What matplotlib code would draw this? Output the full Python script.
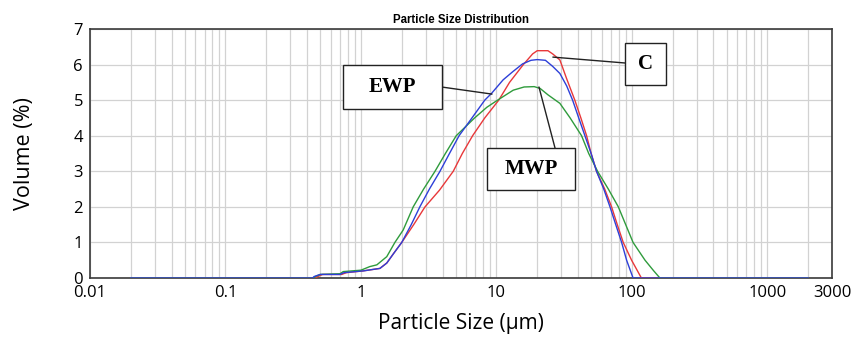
import numpy as np
import matplotlib
matplotlib.use("Agg")
import matplotlib.pyplot as plt
from matplotlib.patches import Rectangle
from matplotlib.ticker import FixedLocator, NullFormatter

# particle size (um) and volume (%)
ewp_size = [0.02, 0.44, 0.45, 0.5, 0.7, 0.75, 1.04, 1.38, 1.55, 1.75, 2.0, 2.35, 2.72,
            3.2, 3.83, 4.5, 5.3, 6.6, 8.2, 9.2, 11.2, 13.2, 15.6, 18, 20, 23, 26, 29.4,
            33, 36.5, 40.5, 45, 50, 54.8, 62, 68.9, 76, 84, 91.4, 102, 2000]
ewp_volume = [0, 0, 0.04, 0.1, 0.1, 0.15, 0.2, 0.27, 0.42, 0.7, 1.0, 1.5, 2.0,
              2.5, 3.0, 3.5, 4.0, 4.5, 5.0, 5.19, 5.57, 5.8, 6.02, 6.12, 6.14, 6.12, 5.95, 5.75,
              5.4, 5.0, 4.5, 4.0, 3.5, 3.0, 2.5, 2.0, 1.5, 1.0, 0.5, 0, 0]

c_size = [0.02, 0.46, 0.48, 0.52, 0.72, 0.78, 1.04, 1.38, 1.55, 1.75, 2.0, 2.45, 2.97,
          3.8, 4.8, 5.6, 6.67, 8.2, 10.4, 12.5, 15.8, 18.5, 20, 24, 26, 29.4, 33,
          37.9, 42, 46.3, 50, 54.8, 63, 70.8, 78, 86.3, 99.5, 117.5, 2000]
c_volume = [0, 0, 0.04, 0.1, 0.1, 0.15, 0.2, 0.27, 0.42, 0.7, 1.0, 1.5, 2.0,
            2.47, 3.0, 3.5, 4.0, 4.5, 5.0, 5.5, 6.0, 6.3, 6.39, 6.39, 6.3, 6.13, 5.6,
            5.0, 4.5, 4.0, 3.5, 3.0, 2.5, 2.0, 1.5, 1.0, 0.5, 0, 0]

mwp_size = [0.02, 0.45, 0.46, 0.5, 0.7, 0.74, 1.0, 1.16, 1.31, 1.55, 1.78, 2.05, 2.43,
            2.9, 3.52, 4.2, 5.05, 6.9, 8.5, 10.2, 13.3, 16, 19, 21, 24, 29.4, 35,
            42.5, 48, 55.8, 67, 79.4, 90, 102, 125, 145, 161, 2000]
mwp_volume = [0, 0, 0.04, 0.1, 0.12, 0.18, 0.22, 0.32, 0.37, 0.6, 1.0, 1.35, 2.0,
              2.5, 3.0, 3.5, 4.0, 4.5, 4.8, 5.0, 5.28, 5.37, 5.38, 5.33, 5.15, 4.91, 4.5,
              4.0, 3.5, 3.0, 2.5, 2.0, 1.5, 1.0, 0.5, 0.2, 0, 0]

x_ticks = [0.01, 0.1, 1, 10, 100, 1000, 3000]
x_tick_labels = ["0.01", "0.1", "1", "10", "100", "1000", "3000"]
y_ticks = [0, 1, 2, 3, 4, 5, 6, 7]


def main():
    """ Draws the particle size distribution of the three powders """

    fig = plt.figure(figsize=(8.55, 3.38), dpi=100)
    ax = fig.add_axes([0.1053, 0.1775, 0.8678, 0.7367])

    # Plots curves
    ax.plot(c_size, c_volume, color="#e8383a", lw=1.0, zorder=3)
    ax.plot(mwp_size, mwp_volume, color="#2f9b3c", lw=1.0, zorder=3)
    ax.plot(ewp_size, ewp_volume, color="#2d3fd8", lw=1.0, zorder=4)

    ax.set_xscale("log")
    ax.set_xlim(0.01, 3000)
    ax.set_ylim(0, 7)

    # grid at every 1..9 of each decade
    minors = [d * k for d in [0.01, 0.1, 1, 10, 100, 1000] for k in range(2, 10) if d * k < 3000]
    ax.xaxis.set_major_locator(FixedLocator(x_ticks))
    ax.xaxis.set_minor_locator(FixedLocator(minors))
    ax.xaxis.set_minor_formatter(NullFormatter())
    ax.set_xticklabels(x_tick_labels)
    ax.set_yticks(y_ticks)
    ax.grid(which="both", color="#d2d2d2", lw=0.9, zorder=0)
    ax.set_axisbelow(True)

    ax.tick_params(which="both", length=0)
    ax.tick_params(axis="x", pad=5, labelsize=12)
    ax.tick_params(axis="y", pad=5, labelsize=12)
    for lab in ax.get_xticklabels() + ax.get_yticklabels():
        lab.set_fontfamily("Open Sans")
    for sp in ax.spines.values():
        sp.set_color("#3a3a3a")
        sp.set_linewidth(1.2)

    # Plots labels
    ax.set_xlabel("Particle Size (µm)", fontsize=15, family="Open Sans", labelpad=9)
    ax.set_ylabel("Volume (%)", fontsize=15.5, family="Open Sans", labelpad=28)
    ax.set_title("Particle Size Distribution", fontsize=8.3, fontweight="bold",
                 family="Liberation Sans", pad=4)

    # label boxes with pointer lines (axes fraction)
    boxes = [("EWP", 0.341, 0.679, 0.133, 0.176, (9.27, 5.17), (0.474, 0.767)),
             ("C", 0.721, 0.775, 0.055, 0.169, (26.1, 6.21), (0.721, 0.8635)),
             ("MWP", 0.535, 0.353, 0.119, 0.169, (20.6, 5.37), (0.6267, 0.522))]
    for name, bx, by, bw, bh, target, start in boxes:
        ax.add_patch(Rectangle((bx, by), bw, bh, transform=ax.transAxes,
                               facecolor="white", edgecolor="#222222", lw=1.0, zorder=6))
        ax.text(bx + bw / 2, by + bh / 2, name, transform=ax.transAxes, ha="center",
                va="center", fontsize=15, fontweight="bold", family="Liberation Serif",
                zorder=7)
        ax.annotate("", xy=target, xycoords="data", xytext=start, textcoords="axes fraction",
                    arrowprops=dict(arrowstyle="-", color="#222222", lw=1.0,
                                    shrinkA=0, shrinkB=0), zorder=5)

    fig.savefig("out.png", dpi=100)


if __name__ == "__main__":
    main()
